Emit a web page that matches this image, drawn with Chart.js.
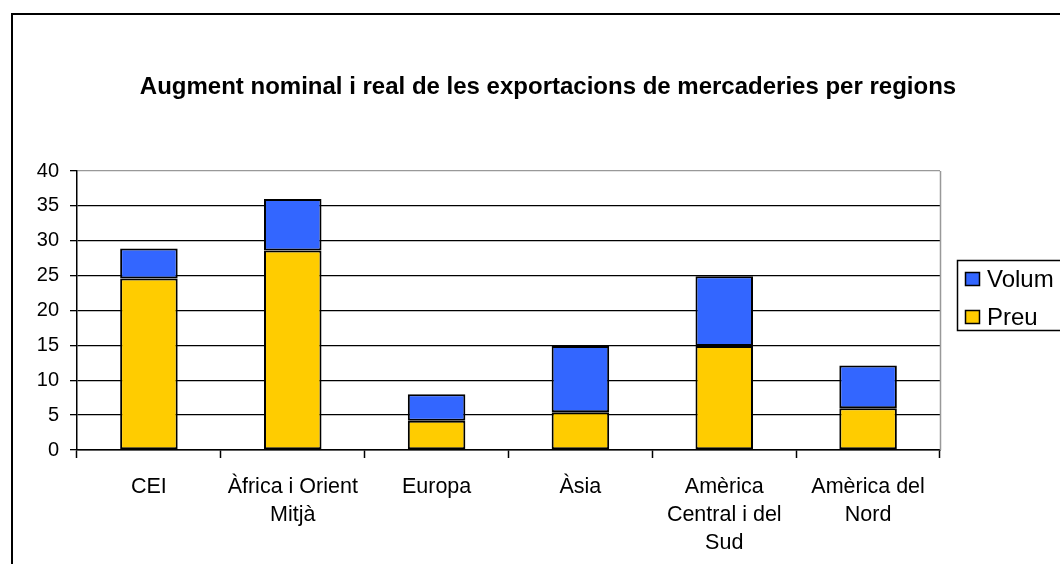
<!doctype html>
<html lang="ca">
<head>
    <meta charset="utf-8">
    <title>Augment nominal i real de les exportacions</title>
    <script src="https://cdn.jsdelivr.net/npm/chart.js@4.4.1/dist/chart.umd.min.js"></script>
    <style>
        html, body { margin: 0; padding: 0; background: #fff; overflow: hidden; }
        #frame {
            position: absolute; left: 11px; top: 13px;
            width: 1200px; height: 700px;
            border-left: 2px solid #000; border-top: 2px solid #000;
        }
        #chartContainer { position: absolute; left: 0; top: 0; width: 1060px; height: 564px; }
    </style>
    <script type="text/javascript">
        // dades llegides del gràfic
        const regions = [
            ["CEI"],
            ["Àfrica i Orient", "Mitjà"],
            ["Europa"],
            ["Àsia"],
            ["Amèrica", "Central i del", "Sud"],
            ["Amèrica del", "Nord"]
        ];
        const preu  = [24.6, 28.6, 4.2, 5.4, 14.9, 6.0];
        const volum = [4.3, 7.4, 3.8, 9.5, 10.0, 6.1];
        const yTicks = [0, 5, 10, 15, 20, 25, 30, 35, 40];

        const titleText = "Augment nominal i real de les exportacions de mercaderies per regions";
        const FONT = "'Liberation Sans', Arial, sans-serif";

        // títol i vora dreta grisa de l'àrea del gràfic
        const decorPlugin = {
            id: "decor",
            afterDraw(chart) {
                const ctx = chart.ctx;
                const area = chart.chartArea;
                ctx.save();
                ctx.strokeStyle = "#999";
                ctx.lineWidth = 1.5;
                ctx.beginPath();
                ctx.moveTo(area.right + 0.5, area.top);
                ctx.lineTo(area.right + 0.5, area.bottom);
                ctx.stroke();

                ctx.fillStyle = "#000";
                ctx.font = "bold 24px " + FONT;
                ctx.textAlign = "center";
                ctx.textBaseline = "middle";
                ctx.fillText(titleText, 548, 87);
                ctx.restore();
            }
        };

        // llegenda a la dreta, Volum a dalt
        const legendPlugin = {
            id: "boxLegend",
            afterDraw(chart) {
                const ctx = chart.ctx;
                ctx.save();
                ctx.strokeStyle = "#000";
                ctx.lineWidth = 1.5;
                ctx.strokeRect(957.5, 260.5, 200, 70);
                const items = chart.data.datasets.slice().reverse();
                ctx.font = "24px " + FONT;
                ctx.textBaseline = "middle";
                items.forEach((ds, i) => {
                    const y = 272 + i * 38;
                    ctx.fillStyle = ds.backgroundColor;
                    ctx.fillRect(965, y, 14, 13);
                    ctx.lineWidth = 1.5;
                    ctx.strokeRect(965.5, y + 0.5, 14, 13);
                    ctx.fillStyle = "#000";
                    ctx.fillText(ds.label, 987, y + 8);
                });
                ctx.restore();
            }
        };

        const makeChart = () => {
            const ctx = document.getElementById("myChart");
            new Chart(ctx, {
                type: "bar",
                data: {
                    labels: regions,
                    datasets: [{
                        label: "Preu",
                        data: preu,
                        backgroundColor: "#FFCC00",
                        borderColor: "#000",
                        borderWidth: 2,
                        borderSkipped: false
                    }, {
                        label: "Volum",
                        data: volum,
                        backgroundColor: "#3366FF",
                        borderColor: "#000",
                        borderWidth: 2,
                        borderSkipped: false
                    }]
                },
                options: {
                    responsive: true,
                    maintainAspectRatio: false,
                    animation: false,
                    barPercentage: 0.4,
                    categoryPercentage: 1,
                    layout: { padding: { left: 0, top: 171, right: 120, bottom: 0 } },
                    plugins: {
                        legend: { display: false },
                        tooltip: { enabled: false }
                    },
                    scales: {
                        x: {
                            stacked: true,
                            afterFit: (scale) => { scale.height = 114; },
                            grid: {
                                offset: true,
                                drawOnChartArea: false,
                                tickLength: 8,
                                tickColor: "#000",
                                tickWidth: 1.5
                            },
                            border: { color: "#000", width: 1.5 },
                            ticks: {
                                color: "#000",
                                padding: 15,
                                maxRotation: 0,
                                autoSkip: false,
                                font: { family: FONT, size: 21.5, lineHeight: 1.3 }
                            }
                        },
                        y: {
                            stacked: true,
                            min: 0,
                            max: 40,
                            afterFit: (scale) => { scale.width = 77; },
                            afterBuildTicks: (scale) => {
                                scale.ticks = yTicks.map(v => ({ value: v }));
                            },
                            grid: {
                                color: (c) => c.tick && c.tick.value === 40 ? "#999" : "#000",
                                lineWidth: 1.3,
                                tickLength: 7,
                                tickColor: "#000"
                            },
                            border: { color: "#000", width: 1.5 },
                            ticks: {
                                color: "#000",
                                padding: 11,
                                font: { family: FONT, size: 20 }
                            }
                        }
                    }
                },
                plugins: [decorPlugin, legendPlugin]
            });
        };

        window.onload = makeChart;
    </script>
</head>
<body>
    <div id="frame"></div>
    <div id="chartContainer"><canvas id="myChart"></canvas></div>
</body>
</html>
